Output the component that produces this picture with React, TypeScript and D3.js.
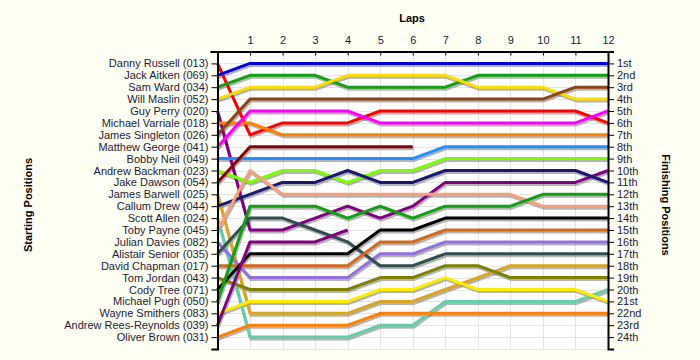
import React, { useRef, useEffect } from "react";
import * as d3 from "d3";

// lap numbers on the top axis
const laps = [0, 1, 2, 3, 4, 5, 6, 7, 8, 9, 10, 11, 12];

// drivers in starting order
const drivers = [
  "Danny Russell (013)",
  "Jack Aitken (069)",
  "Sam Ward (034)",
  "Will Maslin (052)",
  "Guy Perry (020)",
  "Michael Varriale (018)",
  "James Singleton (026)",
  "Matthew George (041)",
  "Bobby Neil (049)",
  "Andrew Backman (023)",
  "Jake Dawson (054)",
  "James Barwell (025)",
  "Callum Drew (044)",
  "Scott Allen (024)",
  "Toby Payne (045)",
  "Julian Davies (082)",
  "Alistair Senior (035)",
  "David Chapman (017)",
  "Tom Jordan (043)",
  "Cody Tree (071)",
  "Michael Pugh (050)",
  "Wayne Smithers (083)",
  "Andrew Rees-Reynolds (039)",
  "Oliver Brown (031)",
];

const finishLabels = [
  "1st", "2nd", "3rd", "4th", "5th", "6th", "7th", "8th", "9th", "10th",
  "11th", "12th", "13th", "14th", "15th", "16th", "17th", "18th", "19th",
  "20th", "21st", "22nd", "23rd", "24th",
];

// position at each lap (lap 0 = grid), null = retired
const dannyRussell = [1, 7, 6, 6, 6, 5, 5, 5, 5, 5, 5, 5, 6];
const jackAitken = [2, 1, 1, 1, 1, 1, 1, 1, 1, 1, 1, 1, 1];
const samWard = [3, 2, 2, 2, 3, 3, 3, 3, 2, 2, 2, 2, 2];
const willMaslin = [4, 3, 3, 3, 2, 2, 2, 2, 3, 3, 3, 4, 4];
const guyPerry = [5, 15, 15, 14, 13, 14, 13, 11, 11, 11, 11, 11, 10];
const michaelVarriale = [6, 6, 7, 7, 7, 7, 7, 7, 7, 7, 7, 7, 7];
const jamesSingleton = [7, 4, 4, 4, 4, 4, 4, 4, 4, 4, 4, 3, 3];
const matthewGeorge = [8, 5, 5, 5, 5, 6, 6, 6, 6, 6, 6, 6, 5];
const bobbyNeil = [9, 9, 9, 9, 9, 9, 9, 8, 8, 8, 8, 8, 8];
const andrewBackman = [10, 11, 10, 10, 11, 10, 10, 9, 9, 9, 9, 9, 9];
const jakeDawson = [11, 8, 8, 8, 8, 8, 8, null, null, null, null, null, null];
const jamesBarwell = [12, 22, 22, 22, 22, 21, 21, 20, 19, 18, 18, 18, 18];
const callumDrew = [13, 12, 11, 11, 10, 11, 11, 10, 10, 10, 10, 10, 11];
const scottAllen = [14, 24, 24, 24, 24, 23, 23, 21, 21, 21, 21, 21, 20];
const tobyPayne = [15, 10, 12, 12, 12, 12, 12, 12, 12, 12, 13, 13, 13];
const julianDavies = [16, 19, 19, 19, 19, 17, 17, 16, 16, 16, 16, 16, 16];
const alistairSenior = [17, 14, 14, 15, 16, 18, 18, 17, 17, 17, 17, 17, 17];
const davidChapman = [18, 18, 18, 18, 18, 16, 16, 15, 15, 15, 15, 15, 15];
const tomJordan = [19, 20, 20, 20, 20, 19, 19, 18, 18, 19, 19, 19, 19];
const codyTree = [20, 17, 17, 17, 17, 15, 15, 14, 14, 14, 14, 14, 14];
const michaelPugh = [21, 13, 13, 13, 14, 13, 14, 13, 13, 13, 12, 12, 12];
const wayneSmithers = [22, 21, 21, 21, 21, 20, 20, 19, 20, 20, 20, 20, 21];
const andrewReesReynolds = [23, 16, 16, 16, 15, null, null, null, null, null, null, null, null];
const oliverBrown = [24, 23, 23, 23, 23, 22, 22, 22, 22, 22, 22, 22, 22];

const positions = [
  dannyRussell, jackAitken, samWard, willMaslin, guyPerry, michaelVarriale,
  jamesSingleton, matthewGeorge, bobbyNeil, andrewBackman, jakeDawson,
  jamesBarwell, callumDrew, scottAllen, tobyPayne, julianDavies,
  alistairSenior, davidChapman, tomJordan, codyTree, michaelPugh,
  wayneSmithers, andrewReesReynolds, oliverBrown,
];

const colors = [
  "#ff0000", "#0000dd", "#10a010", "#ffdd00", "#800080", "#ff8000",
  "#8b4513", "#ff00ff", "#1e90ff", "#7cfc00", "#8b0000", "#daa520",
  "#191970", "#66cdaa", "#f4a07a", "#9370db", "#2f4f4f", "#d2691e",
  "#808000", "#000000", "#10a010", "#ffee00", "#800080", "#ff7f00",
];

function App() {
  const svgRef = useRef(null);

  useEffect(() => {
    const w = 700;
    const h = 360;
    const left = 217.5;
    const right = 608;
    const top = 51.5;
    const bottom = 349;
    const font = "'Liberation Sans', Arial, sans-serif";
    const textColor = "#1a1a3a";

    const svg = d3.select(svgRef.current).attr("width", w).attr("height", h);
    svg.selectAll("*").remove();

    svg.append("rect").attr("width", w).attr("height", h).attr("fill", "#fffff4");

    const x = d3.scaleLinear().domain([0, 12]).range([left, right]);
    const y = d3.scaleLinear().domain([0, drivers.length + 1]).range([top, bottom]);
    const rows = d3.range(1, drivers.length + 2);

    svg
      .append("rect")
      .attr("x", left)
      .attr("y", top)
      .attr("width", right - left)
      .attr("height", bottom - top)
      .attr("fill", "#ffffff");

    // grid
    const grid = svg.append("g").attr("stroke", "#e4e4e4").attr("stroke-width", 1);
    grid
      .selectAll("line.v")
      .data(laps.slice(1))
      .join("line")
      .attr("class", "v")
      .attr("x1", (d) => Math.round(x(d)) + 0.5)
      .attr("x2", (d) => Math.round(x(d)) + 0.5)
      .attr("y1", top)
      .attr("y2", bottom);
    grid
      .selectAll("line.h")
      .data(rows)
      .join("line")
      .attr("class", "h")
      .attr("x1", left)
      .attr("x2", right)
      .attr("y1", (d) => Math.round(y(d)) + 0.5)
      .attr("y2", (d) => Math.round(y(d)) + 0.5);

    // lap lines, shadow first
    const line = d3
      .line()
      .defined((d) => d != null)
      .x((d, i) => x(laps[i]))
      .y((d) => y(d));

    const shadows = svg.append("g").attr("transform", "translate(1,2)");
    shadows
      .selectAll("path")
      .data(positions)
      .join("path")
      .attr("fill", "none")
      .attr("stroke", "#777")
      .attr("stroke-opacity", 0.55)
      .attr("stroke-width", 3)
      .attr("d", line);

    svg
      .append("g")
      .selectAll("path")
      .data(positions)
      .join("path")
      .attr("fill", "none")
      .attr("stroke", (d, i) => colors[i])
      .attr("stroke-width", 3)
      .attr("stroke-linejoin", "round")
      .attr("d", line);

    // axes
    const leftAxis = d3
      .axisLeft(y)
      .tickValues(rows)
      .tickSize(6)
      .tickPadding(3)
      .tickFormat((d) => drivers[d - 1] || "");
    const rightAxis = d3
      .axisRight(y)
      .tickValues(rows)
      .tickSize(6)
      .tickPadding(3)
      .tickFormat((d) => finishLabels[d - 1] || "");
    const topAxis = d3
      .axisTop(x)
      .tickValues(laps)
      .tickSize(-4)
      .tickPadding(8)
      .tickFormat((d) => (d === 0 ? "" : d));

    const gl = svg.append("g").attr("transform", `translate(${left},0)`).call(leftAxis);
    const gr = svg.append("g").attr("transform", `translate(${right},0)`).call(rightAxis);
    const gt = svg.append("g").attr("transform", `translate(0,${top})`).call(topAxis);
    gt.select(".domain").attr("d", `M${left - 7},0.5H${right}`);

    [gl, gr, gt].forEach((g) => {
      g.selectAll(".domain").attr("stroke", "#000").attr("stroke-width", 2);
      g.selectAll(".tick line").attr("stroke", "#000");
      g.selectAll("text")
        .attr("fill", textColor)
        .style("font-family", font)
        .style("font-size", "11px");
    });

    // titles
    const title = (sel) =>
      sel
        .attr("fill", "#000")
        .attr("text-anchor", "middle")
        .style("font-family", font)
        .style("font-size", "11px")
        .style("font-weight", "bold");

    svg.append("text").attr("x", 412).attr("y", 22).text("Laps").call(title);
    svg
      .append("text")
      .attr("transform", "translate(32,205) rotate(-90)")
      .text("Starting Positions")
      .call(title);
    svg
      .append("text")
      .attr("transform", "translate(662,205) rotate(90)")
      .text("Finishing Positions")
      .call(title);
  }, []);

  return (
    <div style={{ position: "fixed", left: 0, top: 0 }}>
      <svg ref={svgRef} style={{ display: "block" }}></svg>
    </div>
  );
}

export default App;
